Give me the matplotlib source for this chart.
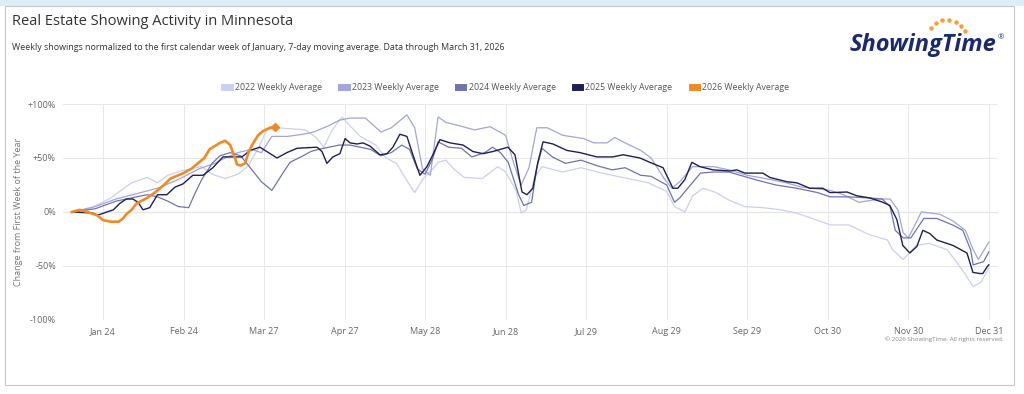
import matplotlib
matplotlib.use("Agg")
import matplotlib.pyplot as plt
from matplotlib.patches import Rectangle
import numpy as np

plt.rcParams['font.family'] = ['Open Sans', 'DejaVu Sans']

# day of year (0 = Jan 1) and % change from first week of January
days_2026 = [11, 14, 17, 20.7, 23, 26, 29, 30.7, 32, 34, 36, 40, 43, 46, 49, 51, 54, 57, 59, 62, 64, 68, 70, 72,
             73.5, 74.6, 76, 77.7, 79, 80.4, 82.7, 84.6, 87.3, 89.2]
vals_2026 = [0, 2, 0, -3, -7.5, -9, -9, -6, -2, 2, 8, 13, 18, 24, 31, 33, 36, 40, 44, 50, 58, 64, 66, 62,
             52, 44, 43, 45, 55, 62, 71, 75, 78, 79]

days_2025 = [11, 19, 21, 24.5, 27, 29.5, 32, 34.5, 36.5, 38.4, 41, 44, 47.6, 50.7, 53.8, 57.6, 61.5, 65.3, 69.2,
             73, 76.5, 79.6, 83.4, 85.4, 90, 93.8, 97.7, 105.4, 107.3, 109.2, 111.5, 114.2, 116.2, 118.1, 120.8,
             123.1, 125.8, 129.6, 132.3, 134.6, 137.3, 140, 142.3, 145, 147.7, 150, 152.7, 156.6, 161.6, 165.4,
             169.3, 173.1, 178.9, 181.6, 184.3, 186.2, 188.5, 190.4, 192.4, 196.2, 201.6, 206.6, 213.1, 219.3,
             223.2, 229.7, 233.5, 238.6, 242.4, 244.3, 247, 249.7, 252.8, 257.8, 264.3, 267, 270.1, 277, 279.7,
             286.3, 290.1, 295.1, 300.1, 302.8, 304, 309.4, 313.2, 318.2, 323.2, 325.9, 328.6, 330.9, 333.6,
             336.3, 338.6, 341.3, 344, 350.2, 355.6, 357.9, 360.6, 361.7, 363.3, 364]
vals_2025 = [0, -1, -3, 0, 2, 8, 12, 12, 9, 2, 4, 16, 16, 23, 26, 34, 34, 41, 51,
             51, 51, 57, 60, 57, 50, 55, 59, 60, 56, 45, 51, 54, 68, 64, 63,
             64, 61, 53, 54, 60, 72, 70, 53, 34, 42, 53, 67, 64, 62, 56,
             54, 56, 60, 53, 18.5, 16, 22, 46, 65, 63, 57, 55, 51, 51,
             53, 50, 46, 41, 22, 22, 30, 46, 42, 39, 38, 39, 36, 36, 32,
             28, 27, 22, 22, 18, 18, 18.5, 15, 13, 9, 6, -7, -31, -38,
             -32, -17, -20, -26, -31, -38, -56, -57, -57, -51, -49]

days_2024 = [11, 20, 28, 36, 40, 44, 48, 52, 56, 58, 61, 65, 68, 72, 76, 80, 84, 88, 92, 95, 100, 103, 106,
             110, 114, 118, 122, 126, 130, 134, 138, 141, 144, 147, 150, 152, 156, 161, 165, 170, 173, 176, 179,
             183, 185, 188, 190, 192, 196, 201, 207, 213, 219, 224, 230, 234, 240, 243, 245, 253, 258, 264, 274,
             282, 290, 298, 303, 310, 318, 323, 326, 328, 331, 334, 339, 344, 350, 354, 357, 358, 362, 364]
vals_2024 = [0, 3, 10, 14, 16, 14, 10, 5, 4, 15, 30, 45, 52, 55, 52, 40, 28, 20, 35, 46, 52, 56, 58,
             60, 62, 62, 60, 58, 52, 55, 62, 58, 40, 35, 50, 65, 60, 59, 51, 55, 60, 55, 46,
             16, 6, 9, 41, 59, 51, 45, 48, 43, 39, 41, 34, 33, 25, 9, 13, 36, 37, 37, 30,
             25, 22, 18, 14, 14, 13, 12, 5, -17, -24, -24, -6, -6, -12, -17, -35, -49, -46, -37]

days_2023 = [11, 20, 28, 36, 44, 52, 60, 66, 70, 75, 80, 84, 88, 94, 100, 104, 110, 114, 118, 124, 130, 134,
             140, 143, 146, 149, 152, 155, 160, 166, 172, 178, 181, 184, 187, 190, 194, 200, 208, 212, 217, 220,
             224, 230, 234, 239, 242, 245, 250, 258, 264, 271, 280, 286, 292, 303, 308, 314, 322, 326, 329, 331,
             333, 336, 338, 345, 350, 355, 358, 360, 363, 364]
vals_2023 = [0, 5, 12, 17, 22, 30, 40, 45, 50, 55, 58, 55, 70, 70, 72, 74, 80, 85, 87, 87, 74, 78,
             90, 78, 40, 34, 88, 83, 80, 76, 79, 71, 46, 25, 41, 78, 78, 71, 68, 64, 64, 69,
             64, 57, 50, 31, 22, 28, 42, 42, 39, 34, 30, 27, 23, 20, 16, 9, 12, 12, 2, -19,
             -24, -10, 0, -2, -8, -17, -35, -44, -32, -28]

days_2022 = [11, 18, 26, 34, 40, 44, 48, 53, 57, 61, 65, 70, 75, 79, 83, 86, 90, 96, 101, 105, 108, 111, 115,
             118, 122, 128, 132, 136, 141, 143, 146, 150, 152, 155, 158, 162, 169, 175, 178, 182, 184, 186, 189,
             192, 200, 207, 215, 225, 233, 240, 243, 247, 250, 254, 259, 264, 270, 277, 284, 290, 296, 303, 310,
             318, 325, 327, 331, 336, 341, 348, 353, 358, 361, 364]
vals_2022 = [0, 3, 13, 27, 32, 27, 34, 38, 40, 42, 35, 31, 35, 43, 60, 76, 78, 77, 76, 69, 60, 75, 88,
             80, 70, 62, 50, 45, 25, 18, 30, 40, 46, 48, 40, 32, 31, 42, 37, 20, -1, 2, 31,
             42, 37, 41, 36, 31, 27, 19, 5, 0, 15, 22, 18, 11, 5, 4, 2, -1, -6, -12, -12,
             -21, -26, -35, -44, -31, -29, -35, -51, -69, -65, -52]

series = [
    ("2022 Weekly Average", days_2022, vals_2022, "#cbcff2", 0.9),
    ("2023 Weekly Average", days_2023, vals_2023, "#a2a5da", 0.9),
    ("2024 Weekly Average", days_2024, vals_2024, "#6f73b2", 0.9),
    ("2025 Weekly Average", days_2025, vals_2025, "#1e2057", 1.0),
    ("2026 Weekly Average", days_2026, vals_2026, "#f28a24", 1.9),
]

tick_days = [23 + 31 * k for k in range(12)]
tick_labels = ["Jan 24", "Feb 24", "Mar 27", "Apr 27", "May 28", "Jun 28",
               "Jul 29", "Aug 29", "Sep 29", "Oct 30", "Nov 30", "Dec 31"]
y_ticks = [-100, -50, 0, 50, 100]
y_labels = ["-100%", "-50%", "0%", "+50%", "+100%"]

fig = plt.figure(figsize=(10.24, 3.94), dpi=100)

# card frame
fig.patches.append(Rectangle((0, 0.985), 1, 0.015, transform=fig.transFigure,
                             facecolor="#dcefF9", edgecolor="none"))
fig.patches.append(Rectangle((0.005, 0.022), 0.985, 0.963, transform=fig.transFigure,
                             facecolor="none", edgecolor="#c8c8c8", lw=0.8))

ax = fig.add_axes([0.0615, 0.188, 0.913, 0.548])
for name, d, v, c, lw in series:
    ax.plot(d, v, color=c, lw=lw, label=name, solid_joinstyle="round")
ax.plot(days_2026[-1], vals_2026[-1], marker="D", ms=4, color="#f28a24")

ax.set_xlim(7.6, 367.5)
ax.set_ylim(-100, 100)
ax.set_xticks(tick_days)
ax.set_xticklabels(tick_labels)
ax.set_yticks(y_ticks)
ax.set_yticklabels(y_labels)
ax.tick_params(length=0, labelsize=6.5, labelcolor="#666666", pad=5)
ax.grid(color="#e8e8e8", lw=0.7)
ax.axhline(0, color="#bdbdbd", lw=0.8, zorder=1)
for s in ax.spines.values():
    s.set_visible(False)
ax.set_ylabel("Change from First Week of the Year", fontsize=6.5, color="#777777", labelpad=3)

fig.text(0.012, 0.945, "Real Estate Showing Activity in Minnesota", fontsize=10.5, color="#333333", va="center")
fig.text(0.012, 0.88, "Weekly showings normalized to the first calendar week of January, 7-day moving average. "
         "Data through March 31, 2026", fontsize=6.4, color="#333333", va="center")

# legend
handles, labels = ax.get_legend_handles_labels()
leg = fig.legend(handles, labels, loc="center", bbox_to_anchor=(0.495, 0.777), ncol=5, frameon=False,
                 fontsize=6.3, handlelength=0.6, handleheight=0.6, columnspacing=2.2, handletextpad=0.6,
                 labelcolor="#555555")
for h in leg.legend_handles:
    h.set_linewidth(5)

# logo
fig.text(0.830, 0.885, "ShowingTime", fontsize=17, fontweight="bold", style="italic",
         color="#1b2a6e", va="center")
fig.text(0.974, 0.905, "®", fontsize=5.5, color="#1b2a6e", va="center")
ang = np.linspace(0.35, 2.6, 7)
fig.add_artist(plt.Line2D(0.925 + 0.018 * np.cos(ang), 0.905 + 0.045 * np.sin(ang), ls="none",
                          marker="o", ms=2.2, color="#f5a033", transform=fig.transFigure))

fig.text(0.98, 0.135, "© 2026 ShowingTime. All rights reserved.", fontsize=4.5, color="#888888", ha="right")

fig.savefig("out.png", dpi=100)
